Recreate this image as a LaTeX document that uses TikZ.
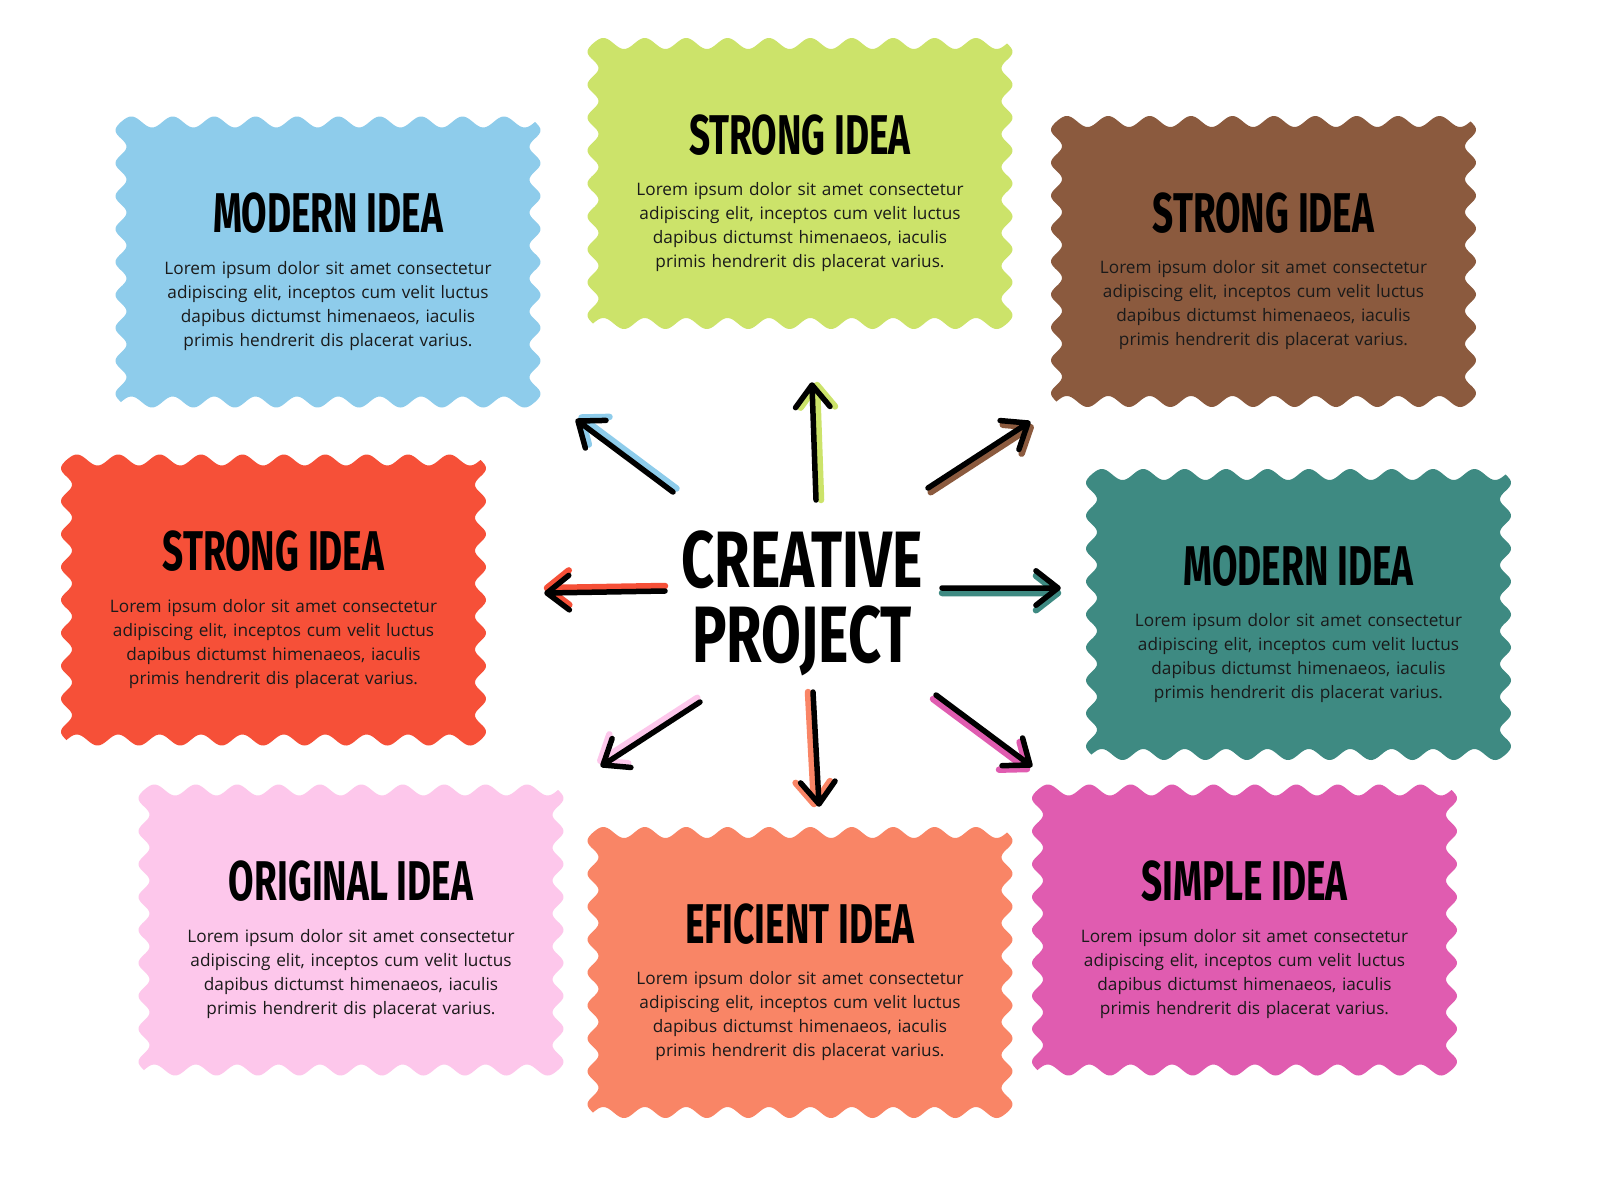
\documentclass[tikz,border=0pt]{standalone}
\usepackage{fontspec}
\setmainfont{Open Sans}
\newfontfamily\titlefont[FakeStretch=0.66]{Fira Sans}
\newfontfamily\bigtitlefont[FakeStretch=0.72]{Fira Sans}
\usetikzlibrary{calc}
\definecolor{cblue}{HTML}{8ECCEB}
\definecolor{cgreen}{HTML}{CCE36A}
\definecolor{cbrown}{HTML}{8B5A3E}
\definecolor{cred}{HTML}{F65038}
\definecolor{cteal}{HTML}{3E8A82}
\definecolor{cpink}{HTML}{FDC7EB}
\definecolor{csalmon}{HTML}{F98566}
\definecolor{cmagenta}{HTML}{E05CB0}
\definecolor{textcol}{HTML}{1A1A1A}
\tikzset{
  boxtitle/.style={font=\titlefont\bfseries\fontsize{56}{56}\selectfont, inner sep=0pt, text=black},
  boxbody/.style={font=\fontsize{17.2}{24}\selectfont, align=center, text width=420pt, inner sep=0pt, anchor=north, text=textcol},
  maintitle/.style={font=\bigtitlefont\bfseries\fontsize{80}{80}\selectfont, inner sep=0pt, anchor=base, text=black},
  blackarrow/.style={line width=5.5pt, line cap=round, line join=round, black},
  shadowarrow/.style={line width=6.5pt, line cap=round, line join=round}
}
\newcommand\wavyshape[3]{% cx, cy, colour
  \begin{scope}[shift={(#1,#2)}]
  \fill[#3] plot[domain=0:1, samples=201, variable=\t] ({-207+414*\t},{-140-5.5*sin(3600*\t)})
    -- plot[domain=0:1, samples=161, variable=\t] ({207+5.5*sin(3060*\t)},{-140+280*\t})
    -- plot[domain=0:1, samples=201, variable=\t] ({207-414*\t},{140+5.5*sin(3600*\t)})
    -- plot[domain=0:1, samples=161, variable=\t] ({-207-5.5*sin(3060*\t)},{140-280*\t})
    -- cycle;
  \end{scope}}
\newcommand\ideabox[5]{% name, cx, cy, colour, title
  \wavyshape{#2}{#3}{#4}
  \node[boxtitle] (#1title) at (#2,#3-48.5) {#5};
  \node[boxbody] (#1body) at (#2,#3-1) {Lorem ipsum dolor sit amet consectetur\\adipiscing elit, inceptos cum velit luctus\\dapibus dictumst himenaeos, iaculis\\primis hendrerit dis placerat varius.};}
\newcommand\skarrow[5]{% tail, tip, colour, dx, dy
  \draw[shadowarrow, #3, transform canvas={shift={(#4,#5)}}]
    (#1) -- (#2) ($(#2)!28pt!38:(#1)$) -- (#2) -- ($(#2)!28pt!-38:(#1)$);
  \draw[blackarrow]
    (#1) -- (#2) ($(#2)!28pt!38:(#1)$) -- (#2) -- ($(#2)!28pt!-38:(#1)$);}
\begin{document}
\begin{tikzpicture}[x=1pt, y=-1pt]
\useasboundingbox (0,0) rectangle (1600,1200);
\fill[white] (0,0) rectangle (1600,1200);
\ideabox{modernA}{328}{262}{cblue}{MODERN IDEA}
\ideabox{strongA}{800}{183.5}{cgreen}{STRONG IDEA}
\ideabox{strongB}{1263.5}{261.5}{cbrown}{STRONG IDEA}
\ideabox{strongC}{273.5}{600}{cred}{STRONG IDEA}
\ideabox{modernB}{1298.5}{614.5}{cteal}{MODERN IDEA}
\ideabox{original}{351}{930}{cpink}{ORIGINAL IDEA}
\ideabox{eficient}{800}{972.5}{csalmon}{EFICIENT IDEA}
\ideabox{simple}{1244.5}{930}{cmagenta}{SIMPLE IDEA}
\node[maintitle] (creative) at (802,587) {CREATIVE};
\node[maintitle] (project) at (802,662) {PROJECT};
\coordinate (t1) at (673,492); \coordinate (h1) at (578,421);
\coordinate (t2) at (816,500); \coordinate (h2) at (812,385);
\coordinate (t3) at (928,488); \coordinate (h3) at (1028,423);
\coordinate (t4) at (942,588); \coordinate (h4) at (1058,588);
\coordinate (t5) at (665,591); \coordinate (h5) at (547,593);
\coordinate (t6) at (700,702); \coordinate (h6) at (603,765);
\coordinate (t7) at (813,692); \coordinate (h7) at (819,804);
\coordinate (t8) at (936,695); \coordinate (h8) at (1030,765);
\skarrow{t1}{h1}{cblue}{3.5}{-3.5}
\skarrow{t2}{h2}{cgreen}{5}{0}
\skarrow{t3}{h3}{cbrown}{2.7}{4.2}
\skarrow{t4}{h4}{cteal}{0}{5}
\skarrow{t5}{h5}{cred}{0}{-5}
\skarrow{t6}{h6}{cpink}{-2.7}{-4.2}
\skarrow{t7}{h7}{csalmon}{-5}{0}
\skarrow{t8}{h8}{cmagenta}{-3}{4}
\end{tikzpicture}
\end{document}
